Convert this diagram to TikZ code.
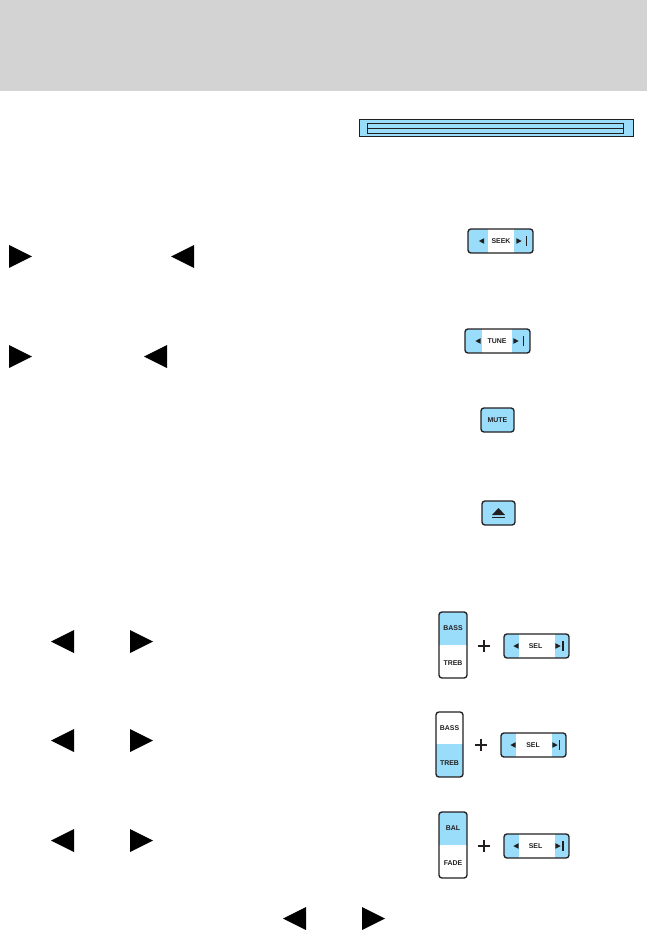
\documentclass[tikz,border=0pt]{standalone}
\usepackage{fontspec}
\setmainfont{Liberation Sans}
\definecolor{hdr}{HTML}{D3D3D3}
\definecolor{sky}{HTML}{9ADDFB}
\definecolor{ink}{HTML}{231F20}
\tikzset{
  btnline/.style={draw=ink,line width=1pt,rounded corners=2.2pt},
  btnlabel/.style={font=\bfseries\fontsize{5.2}{6}\selectfont,text=ink,inner sep=0pt},
  bigtri/.style={fill=black,draw=none},
  smalltri/.style={fill=ink,draw=none},
  plusmark/.style={draw=ink,line width=0.9pt}
}
\newcommand{\bigright}[2]{\fill[bigtri] (#1,#2-11.5) -- (#1+23,#2) -- (#1,#2+11.5) -- cycle;}
\newcommand{\bigleft}[2]{\fill[bigtri] (#1+23,#2-11.5) -- (#1,#2) -- (#1+23,#2+11.5) -- cycle;}
\newcommand{\rocker}[9]{%
  \begin{scope}
    \clip[rounded corners=2.2pt] (#2,#4) rectangle (#3,#5);
    \fill[sky] (#2,#4) rectangle (#6,#5);
    \fill[sky] (#7,#4) rectangle (#3,#5);
  \end{scope}
  \draw[btnline] (#2,#4) rectangle (#3,#5);
  \node[btnlabel] (#1) at (#8,{(#4+#5)/2}) {#9};
}
\newcommand{\arrows}[4]{%
  \fill[smalltri] (#1+2.7,#4-2.8) -- (#1-2.7,#4) -- (#1+2.7,#4+2.8) -- cycle;
  \fill[smalltri] (#2-2.7,#4-2.8) -- (#2+2.7,#4) -- (#2-2.7,#4+2.8) -- cycle;
  \draw[ink,line width=0.9pt] (#3,#4-5) -- (#3,#4+5);
}
\newcommand{\vrocker}[8]{%
  \begin{scope}
    \clip[rounded corners=2.2pt] (#2,#4) rectangle (#3,#6);
    #7
  \end{scope}
  \draw[btnline] (#2,#4) rectangle (#3,#6);
  \node[btnlabel] (#1a) at ({(#2+#3)/2},{(#4+#5)/2}) {#8};
}
\newcommand{\plusat}[2]{\draw[plusmark] (#1-6,#2) -- (#1+6,#2) (#1,#2-6) -- (#1,#2+6);}
\begin{document}
\begin{tikzpicture}[x=0.75pt,y=-0.75pt]
\useasboundingbox (0,0) rectangle (647,930);
\fill[white] (0,0) rectangle (647,930);
\fill[hdr] (0,0) rectangle (647,91);
\draw[fill=sky,draw=ink,line width=0.7pt] (359.5,119.5) rectangle (633,136.5);
\draw[ink,line width=0.7pt] (367.5,123.5) rectangle (623.5,133.5);
\draw[ink,line width=0.7pt] (367.5,128.5) -- (623.5,128.5);
\bigright{9}{256.5}\bigleft{171}{256.5}
\bigright{9}{356.5}\bigleft{144}{356.5}
\bigleft{51}{641.5}\bigright{130}{641.5}
\bigleft{51}{740.5}\bigright{130}{740.5}
\bigleft{51}{840.5}\bigright{130}{840.5}
\bigleft{283}{918.5}\bigright{362}{918.5}
\rocker{seek}{468}{533}{229}{253}{488}{514}{501}{SEEK}
\arrows{481.5}{519}{526.5}{241}
\rocker{tune}{465}{530}{329}{353}{482}{512}{497}{TUNE}
\arrows{478}{516}{523.5}{341}
\draw[btnline,fill=sky] (481,408) rectangle (514,432);
\node[btnlabel] (mute) at (497.5,420) {MUTE};
\draw[btnline,fill=sky] (482,501) rectangle (515,525);
\fill[ink] (492,515) -- (498.5,508) -- (505,515) -- cycle;
\draw[ink,line width=0.9pt] (492,517.5) -- (505,517.5);
\vrocker{bass}{439}{467}{612}{645}{678}{\fill[sky] (439,612) rectangle (467,645);}{BASS}
\node[btnlabel] (treb) at (453,663) {TREB};
\plusat{484}{646}
\rocker{sela}{504}{569}{634}{658}{519}{555}{535.5}{SEL}
\arrows{516}{558}{563}{646}
\vrocker{bassb}{436}{463}{712}{744}{777}{\fill[sky] (436,744) rectangle (463,777);}{BASS}
\node[btnlabel] (trebb) at (449.5,763) {TREB};
\plusat{481}{745}
\rocker{selb}{501}{566}{733}{757}{516}{552}{533}{SEL}
\arrows{513}{555}{559.5}{745}
\vrocker{bal}{439}{467}{812}{845}{878}{\fill[sky] (439,812) rectangle (467,845);}{BAL}
\node[btnlabel] (fade) at (453,863) {FADE};
\plusat{484}{846}
\rocker{selc}{504}{569}{834}{858}{519}{555}{535.5}{SEL}
\arrows{516}{558}{563}{846}
\end{tikzpicture}
\end{document}
